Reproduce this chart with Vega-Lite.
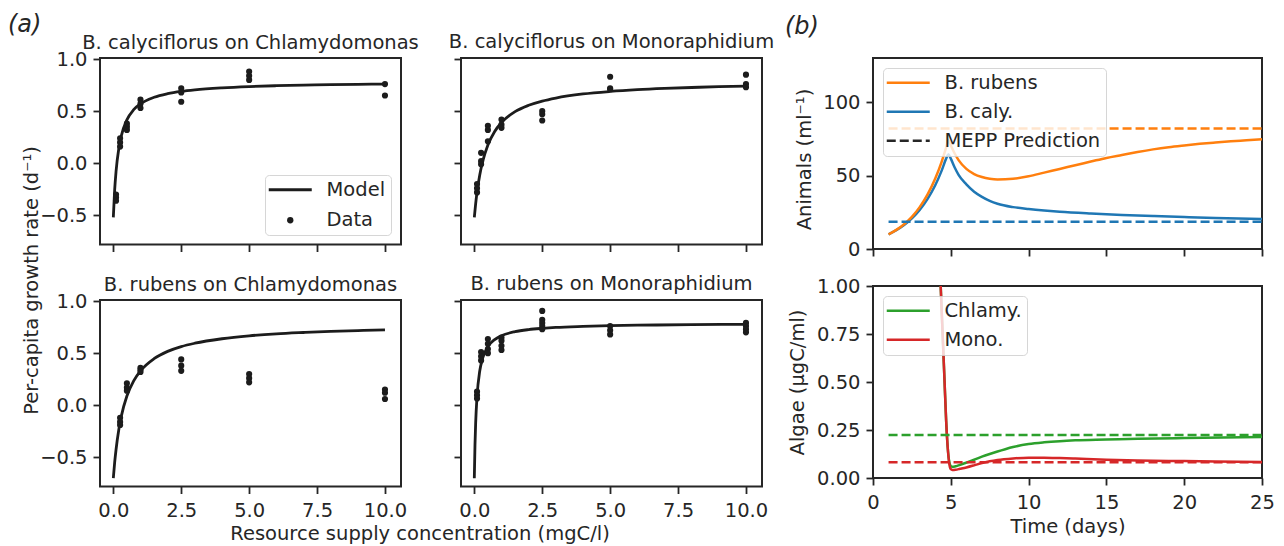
{
"$schema": "https://vega.github.io/schema/vega-lite/v6.json",
"padding": {"left": 8, "top": 12, "right": 4, "bottom": 2},
"bounds": "flush",
"spacing": 773,
"resolve": {"scale": {"color": "independent"}, "legend": {"color": "independent"}},
"datasets": {
"model": [
{"panel":"TL","series":"Model","s":0,"r":-0.52},{"panel":"TL","series":"Model","s":0.05,"r":-0.256},{"panel":"TL","series":"Model","s":0.1,"r":-0.081},{"panel":"TL","series":"Model","s":0.2,"r":0.137},{"panel":"TL","series":"Model","s":0.3,"r":0.268},{"panel":"TL","series":"Model","s":0.5,"r":0.416},{"panel":"TL","series":"Model","s":0.75,"r":0.514},{"panel":"TL","series":"Model","s":1,"r":0.57},{"panel":"TL","series":"Model","s":1.5,"r":0.633},{"panel":"TL","series":"Model","s":2,"r":0.668},{"panel":"TL","series":"Model","s":2.5,"r":0.69},{"panel":"TL","series":"Model","s":3,"r":0.705},{"panel":"TL","series":"Model","s":4,"r":0.724},{"panel":"TL","series":"Model","s":5,"r":0.736},{"panel":"TL","series":"Model","s":6,"r":0.744},{"panel":"TL","series":"Model","s":7,"r":0.749},{"panel":"TL","series":"Model","s":8,"r":0.754},{"panel":"TL","series":"Model","s":9,"r":0.757},{"panel":"TL","series":"Model","s":10,"r":0.76},
{"panel":"TR","series":"Model","s":0,"r":-0.52},{"panel":"TR","series":"Model","s":0.05,"r":-0.388},{"panel":"TR","series":"Model","s":0.1,"r":-0.279},{"panel":"TR","series":"Model","s":0.2,"r":-0.113},{"panel":"TR","series":"Model","s":0.3,"r":0.009},{"panel":"TR","series":"Model","s":0.5,"r":0.175},{"panel":"TR","series":"Model","s":0.75,"r":0.305},{"panel":"TR","series":"Model","s":1,"r":0.39},{"panel":"TR","series":"Model","s":1.5,"r":0.495},{"panel":"TR","series":"Model","s":2,"r":0.556},{"panel":"TR","series":"Model","s":2.5,"r":0.597},{"panel":"TR","series":"Model","s":3,"r":0.626},{"panel":"TR","series":"Model","s":4,"r":0.665},{"panel":"TR","series":"Model","s":5,"r":0.689},{"panel":"TR","series":"Model","s":6,"r":0.706},{"panel":"TR","series":"Model","s":7,"r":0.718},{"panel":"TR","series":"Model","s":8,"r":0.727},{"panel":"TR","series":"Model","s":9,"r":0.735},{"panel":"TR","series":"Model","s":10,"r":0.741},
{"panel":"BL","series":"Model","s":0,"r":-0.70},{"panel":"BL","series":"Model","s":0.05,"r":-0.549},{"panel":"BL","series":"Model","s":0.1,"r":-0.427},{"panel":"BL","series":"Model","s":0.2,"r":-0.238},{"panel":"BL","series":"Model","s":0.3,"r":-0.1},{"panel":"BL","series":"Model","s":0.5,"r":0.088},{"panel":"BL","series":"Model","s":0.75,"r":0.234},{"panel":"BL","series":"Model","s":1,"r":0.33},{"panel":"BL","series":"Model","s":1.5,"r":0.447},{"panel":"BL","series":"Model","s":2,"r":0.517},{"panel":"BL","series":"Model","s":2.5,"r":0.563},{"panel":"BL","series":"Model","s":3,"r":0.595},{"panel":"BL","series":"Model","s":4,"r":0.638},{"panel":"BL","series":"Model","s":5,"r":0.666},{"panel":"BL","series":"Model","s":6,"r":0.685},{"panel":"BL","series":"Model","s":7,"r":0.698},{"panel":"BL","series":"Model","s":8,"r":0.709},{"panel":"BL","series":"Model","s":9,"r":0.717},{"panel":"BL","series":"Model","s":10,"r":0.724},
{"panel":"BR","series":"Model","s":0,"r":-0.70},{"panel":"BR","series":"Model","s":0.025,"r":-0.376},{"panel":"BR","series":"Model","s":0.05,"r":-0.168},{"panel":"BR","series":"Model","s":0.1,"r":0.084},{"panel":"BR","series":"Model","s":0.2,"r":0.328},{"panel":"BR","series":"Model","s":0.3,"r":0.446},{"panel":"BR","series":"Model","s":0.5,"r":0.563},{"panel":"BR","series":"Model","s":0.75,"r":0.63},{"panel":"BR","series":"Model","s":1,"r":0.667},{"panel":"BR","series":"Model","s":1.5,"r":0.706},{"panel":"BR","series":"Model","s":2,"r":0.726},{"panel":"BR","series":"Model","s":2.5,"r":0.738},{"panel":"BR","series":"Model","s":3,"r":0.747},{"panel":"BR","series":"Model","s":4,"r":0.757},{"panel":"BR","series":"Model","s":5,"r":0.764},{"panel":"BR","series":"Model","s":6,"r":0.768},{"panel":"BR","series":"Model","s":8,"r":0.773},{"panel":"BR","series":"Model","s":10,"r":0.777}
],
"pts": [
{"panel":"TL","series":"Data","s":0.1,"r":-0.30},{"panel":"TL","series":"Data","s":0.1,"r":-0.33},{"panel":"TL","series":"Data","s":0.1,"r":-0.36},
{"panel":"TL","series":"Data","s":0.25,"r":0.24},{"panel":"TL","series":"Data","s":0.25,"r":0.20},{"panel":"TL","series":"Data","s":0.25,"r":0.16},
{"panel":"TL","series":"Data","s":0.5,"r":0.38},{"panel":"TL","series":"Data","s":0.5,"r":0.35},{"panel":"TL","series":"Data","s":0.5,"r":0.32},
{"panel":"TL","series":"Data","s":1,"r":0.61},{"panel":"TL","series":"Data","s":1,"r":0.57},{"panel":"TL","series":"Data","s":1,"r":0.53},
{"panel":"TL","series":"Data","s":2.5,"r":0.72},{"panel":"TL","series":"Data","s":2.5,"r":0.68},{"panel":"TL","series":"Data","s":2.5,"r":0.59},
{"panel":"TL","series":"Data","s":5,"r":0.88},{"panel":"TL","series":"Data","s":5,"r":0.84},{"panel":"TL","series":"Data","s":5,"r":0.80},
{"panel":"TL","series":"Data","s":10,"r":0.76},{"panel":"TL","series":"Data","s":10,"r":0.65},
{"panel":"TR","series":"Data","s":0.1,"r":-0.20},{"panel":"TR","series":"Data","s":0.1,"r":-0.24},{"panel":"TR","series":"Data","s":0.1,"r":-0.28},
{"panel":"TR","series":"Data","s":0.25,"r":0.10},{"panel":"TR","series":"Data","s":0.25,"r":0.02},{"panel":"TR","series":"Data","s":0.25,"r":-0.01},
{"panel":"TR","series":"Data","s":0.5,"r":0.36},{"panel":"TR","series":"Data","s":0.5,"r":0.32},{"panel":"TR","series":"Data","s":0.5,"r":0.21},
{"panel":"TR","series":"Data","s":1,"r":0.42},{"panel":"TR","series":"Data","s":1,"r":0.37},{"panel":"TR","series":"Data","s":1,"r":0.34},
{"panel":"TR","series":"Data","s":2.5,"r":0.50},{"panel":"TR","series":"Data","s":2.5,"r":0.47},{"panel":"TR","series":"Data","s":2.5,"r":0.41},
{"panel":"TR","series":"Data","s":5,"r":0.83},{"panel":"TR","series":"Data","s":5,"r":0.72},{"panel":"TR","series":"Data","s":5,"r":0.71},
{"panel":"TR","series":"Data","s":10,"r":0.85},{"panel":"TR","series":"Data","s":10,"r":0.76},{"panel":"TR","series":"Data","s":10,"r":0.73},
{"panel":"BL","series":"Data","s":0.25,"r":-0.12},{"panel":"BL","series":"Data","s":0.25,"r":-0.16},{"panel":"BL","series":"Data","s":0.25,"r":-0.19},
{"panel":"BL","series":"Data","s":0.5,"r":0.21},{"panel":"BL","series":"Data","s":0.5,"r":0.17},{"panel":"BL","series":"Data","s":0.5,"r":0.14},
{"panel":"BL","series":"Data","s":1,"r":0.36},{"panel":"BL","series":"Data","s":1,"r":0.34},{"panel":"BL","series":"Data","s":1,"r":0.32},
{"panel":"BL","series":"Data","s":2.5,"r":0.44},{"panel":"BL","series":"Data","s":2.5,"r":0.38},{"panel":"BL","series":"Data","s":2.5,"r":0.33},
{"panel":"BL","series":"Data","s":5,"r":0.30},{"panel":"BL","series":"Data","s":5,"r":0.26},{"panel":"BL","series":"Data","s":5,"r":0.22},
{"panel":"BL","series":"Data","s":10,"r":0.15},{"panel":"BL","series":"Data","s":10,"r":0.12},{"panel":"BL","series":"Data","s":10,"r":0.06},
{"panel":"BR","series":"Data","s":0.1,"r":0.13},{"panel":"BR","series":"Data","s":0.1,"r":0.095},{"panel":"BR","series":"Data","s":0.1,"r":0.065},
{"panel":"BR","series":"Data","s":0.25,"r":0.51},{"panel":"BR","series":"Data","s":0.25,"r":0.47},{"panel":"BR","series":"Data","s":0.25,"r":0.43},
{"panel":"BR","series":"Data","s":0.5,"r":0.635},{"panel":"BR","series":"Data","s":0.5,"r":0.59},{"panel":"BR","series":"Data","s":0.5,"r":0.54},{"panel":"BR","series":"Data","s":0.5,"r":0.50},
{"panel":"BR","series":"Data","s":1,"r":0.65},{"panel":"BR","series":"Data","s":1,"r":0.62},{"panel":"BR","series":"Data","s":1,"r":0.57},{"panel":"BR","series":"Data","s":1,"r":0.53},
{"panel":"BR","series":"Data","s":2.5,"r":0.905},{"panel":"BR","series":"Data","s":2.5,"r":0.82},{"panel":"BR","series":"Data","s":2.5,"r":0.79},{"panel":"BR","series":"Data","s":2.5,"r":0.76},{"panel":"BR","series":"Data","s":2.5,"r":0.73},
{"panel":"BR","series":"Data","s":5,"r":0.76},{"panel":"BR","series":"Data","s":5,"r":0.72},{"panel":"BR","series":"Data","s":5,"r":0.68},
{"panel":"BR","series":"Data","s":10,"r":0.79},{"panel":"BR","series":"Data","s":10,"r":0.76},{"panel":"BR","series":"Data","s":10,"r":0.73},{"panel":"BR","series":"Data","s":10,"r":0.70}
],
"animals": [
{"sp":"B. caly.","t":1,"n":10},{"sp":"B. caly.","t":1.5,"n":12.8},{"sp":"B. caly.","t":2,"n":16.3},{"sp":"B. caly.","t":2.5,"n":20.8},{"sp":"B. caly.","t":3,"n":26.6},{"sp":"B. caly.","t":3.5,"n":34},{"sp":"B. caly.","t":4,"n":43.4},{"sp":"B. caly.","t":4.4,"n":53},{"sp":"B. caly.","t":4.7,"n":61.5},{"sp":"B. caly.","t":4.85,"n":64.5},{"sp":"B. caly.","t":5,"n":61.5},{"sp":"B. caly.","t":5.25,"n":55.5},{"sp":"B. caly.","t":5.5,"n":50.5},{"sp":"B. caly.","t":6,"n":44},{"sp":"B. caly.","t":6.5,"n":39},{"sp":"B. caly.","t":7,"n":35.5},{"sp":"B. caly.","t":7.5,"n":32.8},{"sp":"B. caly.","t":8,"n":30.8},{"sp":"B. caly.","t":9,"n":28.5},{"sp":"B. caly.","t":10,"n":27.2},{"sp":"B. caly.","t":11,"n":26.2},{"sp":"B. caly.","t":12,"n":25.4},{"sp":"B. caly.","t":14,"n":24.2},{"sp":"B. caly.","t":16,"n":23.2},{"sp":"B. caly.","t":18,"n":22.4},{"sp":"B. caly.","t":20,"n":21.7},{"sp":"B. caly.","t":22,"n":21.1},{"sp":"B. caly.","t":25,"n":20.4},
{"sp":"B. rubens","t":1,"n":10},{"sp":"B. rubens","t":1.5,"n":13},{"sp":"B. rubens","t":2,"n":16.9},{"sp":"B. rubens","t":2.5,"n":21.9},{"sp":"B. rubens","t":3,"n":28.5},{"sp":"B. rubens","t":3.5,"n":37},{"sp":"B. rubens","t":4,"n":48},{"sp":"B. rubens","t":4.4,"n":59},{"sp":"B. rubens","t":4.7,"n":69},{"sp":"B. rubens","t":4.85,"n":74},{"sp":"B. rubens","t":5,"n":70.5},{"sp":"B. rubens","t":5.25,"n":65},{"sp":"B. rubens","t":5.5,"n":60.5},{"sp":"B. rubens","t":6,"n":54.5},{"sp":"B. rubens","t":6.5,"n":51},{"sp":"B. rubens","t":7,"n":49},{"sp":"B. rubens","t":7.5,"n":47.8},{"sp":"B. rubens","t":8,"n":47.3},{"sp":"B. rubens","t":9,"n":47.8},{"sp":"B. rubens","t":10,"n":49.5},{"sp":"B. rubens","t":11,"n":52},{"sp":"B. rubens","t":12,"n":54.5},{"sp":"B. rubens","t":13,"n":57},{"sp":"B. rubens","t":14,"n":59.5},{"sp":"B. rubens","t":15,"n":62},{"sp":"B. rubens","t":16,"n":64},{"sp":"B. rubens","t":17,"n":66},{"sp":"B. rubens","t":18,"n":67.8},{"sp":"B. rubens","t":19,"n":69.3},{"sp":"B. rubens","t":20,"n":70.5},{"sp":"B. rubens","t":21,"n":71.6},{"sp":"B. rubens","t":22,"n":72.5},{"sp":"B. rubens","t":23,"n":73.3},{"sp":"B. rubens","t":24,"n":74},{"sp":"B. rubens","t":25,"n":74.7}
],
"animals_pred": [
{"sp":"B. caly.","t":1,"n":18.6},{"sp":"B. caly.","t":25,"n":18.6},
{"sp":"B. rubens","t":1,"n":82},{"sp":"B. rubens","t":25,"n":82}
],
"algae": [
{"sp":"Chlamy.","t":1,"a":4.5},{"sp":"Chlamy.","t":2,"a":4.3},{"sp":"Chlamy.","t":3,"a":3.6},{"sp":"Chlamy.","t":3.5,"a":3.0},{"sp":"Chlamy.","t":4,"a":1.75},{"sp":"Chlamy.","t":4.35,"a":1.0},{"sp":"Chlamy.","t":4.5,"a":0.7},{"sp":"Chlamy.","t":4.6,"a":0.5},{"sp":"Chlamy.","t":4.7,"a":0.3},{"sp":"Chlamy.","t":4.8,"a":0.16},{"sp":"Chlamy.","t":4.9,"a":0.085},{"sp":"Chlamy.","t":5,"a":0.062},{"sp":"Chlamy.","t":5.1,"a":0.058},{"sp":"Chlamy.","t":5.3,"a":0.061},{"sp":"Chlamy.","t":5.5,"a":0.066},{"sp":"Chlamy.","t":6,"a":0.08},{"sp":"Chlamy.","t":6.5,"a":0.095},{"sp":"Chlamy.","t":7,"a":0.111},{"sp":"Chlamy.","t":7.5,"a":0.125},{"sp":"Chlamy.","t":8,"a":0.138},{"sp":"Chlamy.","t":8.5,"a":0.15},{"sp":"Chlamy.","t":9,"a":0.161},{"sp":"Chlamy.","t":10,"a":0.177},{"sp":"Chlamy.","t":11,"a":0.186},{"sp":"Chlamy.","t":12,"a":0.192},{"sp":"Chlamy.","t":13,"a":0.196},{"sp":"Chlamy.","t":15,"a":0.2},{"sp":"Chlamy.","t":17,"a":0.204},{"sp":"Chlamy.","t":20,"a":0.208},{"sp":"Chlamy.","t":25,"a":0.213},
{"sp":"Mono.","t":1,"a":4.5},{"sp":"Mono.","t":2,"a":4.3},{"sp":"Mono.","t":3,"a":3.6},{"sp":"Mono.","t":3.5,"a":3.0},{"sp":"Mono.","t":4,"a":1.75},{"sp":"Mono.","t":4.35,"a":1.0},{"sp":"Mono.","t":4.5,"a":0.7},{"sp":"Mono.","t":4.6,"a":0.5},{"sp":"Mono.","t":4.7,"a":0.3},{"sp":"Mono.","t":4.8,"a":0.16},{"sp":"Mono.","t":4.9,"a":0.075},{"sp":"Mono.","t":5,"a":0.046},{"sp":"Mono.","t":5.1,"a":0.042},{"sp":"Mono.","t":5.3,"a":0.043},{"sp":"Mono.","t":5.6,"a":0.048},{"sp":"Mono.","t":6,"a":0.055},{"sp":"Mono.","t":6.5,"a":0.066},{"sp":"Mono.","t":7,"a":0.078},{"sp":"Mono.","t":7.5,"a":0.087},{"sp":"Mono.","t":8,"a":0.094},{"sp":"Mono.","t":9,"a":0.102},{"sp":"Mono.","t":10,"a":0.106},{"sp":"Mono.","t":11,"a":0.106},{"sp":"Mono.","t":12,"a":0.104},{"sp":"Mono.","t":13,"a":0.101},{"sp":"Mono.","t":15,"a":0.095},{"sp":"Mono.","t":17,"a":0.091},{"sp":"Mono.","t":20,"a":0.088},{"sp":"Mono.","t":22,"a":0.086},{"sp":"Mono.","t":25,"a":0.083}
],
"algae_pred": [
{"sp":"Chlamy.","t":1,"a":0.224},{"sp":"Chlamy.","t":25,"a":0.224},
{"sp":"Mono.","t":1,"a":0.082},{"sp":"Mono.","t":25,"a":0.082}
]
},
"hconcat": [
{
"title": {"text": "(a)", "anchor": "start", "frame": "group", "orient": "top", "fontSize": 24, "fontStyle": "italic", "offset": -6, "dx": -92},
"bounds": "flush",
"resolve": {"scale": {"color": "independent"}, "legend": {"color": "independent"}},
"vconcat": [
{
"title": {"text": "Per-capita growth rate (d⁻¹)", "orient": "left", "anchor": "middle", "frame": "group", "offset": -4, "dx": -222.5},
"bounds": "flush",
"resolve": {"scale": {"color": "independent"}, "legend": {"color": "independent"}},
"vconcat": [
{
"title": {"text": "Resource supply concentration (mgC/l)", "orient": "bottom", "anchor": "middle", "frame": "group", "offset": 4, "dx": 320},
"bounds": "flush",
"spacing": 242,
"resolve": {"scale": {"color": "independent"}, "legend": {"color": "independent"}},
"vconcat": [
{
"bounds": "flush",
"spacing": 60,
"resolve": {"scale": {"color": "independent"}, "legend": {"color": "independent"}},
"hconcat": [
{
"width": 301, "height": 186.5,
"title": {"text": "B. calyciflorus on Chlamydomonas"},
"layer": [
{"data": {"name": "model"}, "transform": [{"filter": "datum.panel === 'TL'"}],
"mark": {"type": "line", "interpolate": "monotone", "strokeWidth": 2.8},
"encoding": {
"x": {"field": "s", "type": "quantitative", "scale": {"domain": [-0.49, 10.59], "nice": false, "zero": false}, "axis": {"values": [0, 2.5, 5, 7.5, 10], "format": ".1f", "title": null, "labels": false}},
"y": {"field": "r", "type": "quantitative", "scale": {"domain": [-0.78, 1.01], "nice": false, "zero": false}, "axis": {"values": [-0.5, 0, 0.5, 1], "format": ".1f", "title": null}},
"color": {"field": "series", "type": "nominal", "scale": {"domain": ["Model", "Data"], "range": ["#1c1c1c", "#1c1c1c"]},
"legend": {"title": null, "orient": "bottom-right", "offset": 10, "padding": 5, "rowPadding": 9.5, "labelOffset": 26.5, "symbolOffset": 10.5, "symbolSize": 1849, "symbolType": "stroke", "symbolStrokeWidth": 2.8,
"encode": {"symbols": {"update": {"shape": {"signal": "datum.value === 'Data' ? 'circle' : 'stroke'"}, "size": {"signal": "datum.value === 'Data' ? 40 : 1849"}, "fill": {"signal": "datum.value === 'Data' ? '#1c1c1c' : 'transparent'"}, "stroke": {"value": "#1c1c1c"}, "strokeWidth": {"signal": "datum.value === 'Data' ? 0 : 2.8"}}}}}}
}},
{"data": {"name": "pts"}, "transform": [{"filter": "datum.panel === 'TL'"}],
"mark": {"type": "circle", "size": 38, "opacity": 1},
"encoding": {"x": {"field": "s", "type": "quantitative"}, "y": {"field": "r", "type": "quantitative"}, "color": {"field": "series", "type": "nominal"}}}
]
},
{
"width": 301, "height": 186.5,
"title": {"text": "B. calyciflorus on Monoraphidium", "offset": 6},
"layer": [
{"data": {"name": "model"}, "transform": [{"filter": "datum.panel === 'TR'"}],
"mark": {"type": "line", "interpolate": "monotone", "strokeWidth": 2.8, "color": "#1c1c1c"},
"encoding": {
"x": {"field": "s", "type": "quantitative", "scale": {"domain": [-0.49, 10.59], "nice": false, "zero": false}, "axis": {"values": [0, 2.5, 5, 7.5, 10], "format": ".1f", "title": null, "labels": false}},
"y": {"field": "r", "type": "quantitative", "scale": {"domain": [-0.78, 1.01], "nice": false, "zero": false}, "axis": {"values": [-0.5, 0, 0.5, 1], "format": ".1f", "title": null, "labels": false}}
}},
{"data": {"name": "pts"}, "transform": [{"filter": "datum.panel === 'TR'"}],
"mark": {"type": "circle", "size": 38, "opacity": 1, "color": "#1c1c1c"},
"encoding": {"x": {"field": "s", "type": "quantitative"}, "y": {"field": "r", "type": "quantitative"}}}
]
}
]
},
{
"bounds": "flush",
"spacing": 60,
"resolve": {"scale": {"color": "independent"}, "legend": {"color": "independent"}},
"hconcat": [
{
"width": 301, "height": 186.5,
"title": {"text": "B. rubens on Chlamydomonas"},
"layer": [
{"data": {"name": "model"}, "transform": [{"filter": "datum.panel === 'BL'"}],
"mark": {"type": "line", "interpolate": "monotone", "strokeWidth": 2.8, "color": "#1c1c1c"},
"encoding": {
"x": {"field": "s", "type": "quantitative", "scale": {"domain": [-0.49, 10.59], "nice": false, "zero": false}, "axis": {"values": [0, 2.5, 5, 7.5, 10], "format": ".1f", "title": null}},
"y": {"field": "r", "type": "quantitative", "scale": {"domain": [-0.78, 1.01], "nice": false, "zero": false}, "axis": {"values": [-0.5, 0, 0.5, 1], "format": ".1f", "title": null}}
}},
{"data": {"name": "pts"}, "transform": [{"filter": "datum.panel === 'BL'"}],
"mark": {"type": "circle", "size": 38, "opacity": 1, "color": "#1c1c1c"},
"encoding": {"x": {"field": "s", "type": "quantitative"}, "y": {"field": "r", "type": "quantitative"}}}
]
},
{
"width": 301, "height": 186.5,
"title": {"text": "B. rubens on Monoraphidium", "offset": 6},
"layer": [
{"data": {"name": "model"}, "transform": [{"filter": "datum.panel === 'BR'"}],
"mark": {"type": "line", "interpolate": "monotone", "strokeWidth": 2.8, "color": "#1c1c1c"},
"encoding": {
"x": {"field": "s", "type": "quantitative", "scale": {"domain": [-0.49, 10.59], "nice": false, "zero": false}, "axis": {"values": [0, 2.5, 5, 7.5, 10], "format": ".1f", "title": null}},
"y": {"field": "r", "type": "quantitative", "scale": {"domain": [-0.78, 1.01], "nice": false, "zero": false}, "axis": {"values": [-0.5, 0, 0.5, 1], "format": ".1f", "title": null, "labels": false}}
}},
{"data": {"name": "pts"}, "transform": [{"filter": "datum.panel === 'BR'"}],
"mark": {"type": "circle", "size": 38, "opacity": 1, "color": "#1c1c1c"},
"encoding": {"x": {"field": "s", "type": "quantitative"}, "y": {"field": "r", "type": "quantitative"}}}
]
}
]
}
]
}
]
}
]
},
{
"title": {"text": "(b)", "anchor": "start", "frame": "group", "orient": "top", "fontSize": 24, "fontStyle": "italic", "offset": 18, "dx": -88},
"bounds": "flush",
"spacing": 37,
"resolve": {"scale": {"color": "independent"}, "legend": {"color": "independent"}},
"vconcat": [
{
"width": 389, "height": 191,
"layer": [
{"data": {"name": "animals"},
"mark": {"type": "line", "interpolate": "monotone", "strokeWidth": 2.5},
"encoding": {
"x": {"field": "t", "type": "quantitative", "scale": {"domain": [0, 25], "nice": false, "zero": false}, "axis": {"values": [0, 5, 10, 15, 20, 25], "labels": false, "title": null}},
"y": {"field": "n", "type": "quantitative", "scale": {"domain": [0, 130], "nice": false, "zero": false}, "axis": {"values": [0, 50, 100], "title": "Animals (ml⁻¹)", "titlePadding": 8, "titleY": 101}},
"color": {"field": "sp", "type": "nominal", "scale": {"domain": ["B. rubens", "B. caly.", "MEPP Prediction"], "range": ["#ff7f0e", "#1f77b4", "#262626"]},
"legend": {"title": null, "orient": "top-left", "offset": 10, "padding": 5, "rowPadding": 8, "labelOffset": 26.5, "symbolOffset": 10.5, "symbolSize": 1849, "symbolType": "stroke", "symbolStrokeWidth": 2.5,
"encode": {"symbols": {"update": {"size": {"signal": "datum.value === 'zzz' ? 40 : 1849"}, "strokeWidth": {"signal": "datum.value === 'zzz' ? 0 : 2.5"}, "strokeDash": {"signal": "datum.value === 'MEPP Prediction' ? [9, 4] : [1000, 0]"}}}}}}
}},
{"data": {"name": "animals_pred"},
"mark": {"type": "line", "strokeWidth": 2.5, "strokeDash": [9, 4]},
"encoding": {"x": {"field": "t", "type": "quantitative"}, "y": {"field": "n", "type": "quantitative"}, "color": {"field": "sp", "type": "nominal"}}}
]
},
{
"width": 389, "height": 192,
"layer": [
{"data": {"name": "algae"},
"mark": {"type": "line", "interpolate": "monotone", "strokeWidth": 2.5, "clip": true},
"encoding": {
"x": {"field": "t", "type": "quantitative", "scale": {"domain": [0, 25], "nice": false, "zero": false}, "axis": {"values": [0, 5, 10, 15, 20, 25], "title": "Time (days)", "titlePadding": 6}},
"y": {"field": "a", "type": "quantitative", "scale": {"domain": [0, 1], "nice": false, "zero": false}, "axis": {"values": [0, 0.25, 0.5, 0.75, 1], "format": ".2f", "title": "Algae (μgC/ml)", "titlePadding": 9}},
"color": {"field": "sp", "type": "nominal", "scale": {"domain": ["Chlamy.", "Mono."], "range": ["#2ca02c", "#d62728"]},
"legend": {"title": null, "orient": "top-left", "offset": 10, "padding": 5, "rowPadding": 8, "labelOffset": 26.5, "symbolOffset": 10.5, "symbolSize": 1849, "symbolType": "stroke", "symbolStrokeWidth": 2.5,
"encode": {"symbols": {"update": {"size": {"signal": "datum.value === 'zzz' ? 40 : 1849"}, "strokeWidth": {"signal": "datum.value === 'zzz' ? 0 : 2.5"}}}}}}
}},
{"data": {"name": "algae_pred"},
"mark": {"type": "line", "strokeWidth": 2.5, "strokeDash": [9, 4]},
"encoding": {"x": {"field": "t", "type": "quantitative"}, "y": {"field": "a", "type": "quantitative"}, "color": {"field": "sp", "type": "nominal"}}}
]
}
]
}
],
"config": {
"font": "DejaVu Sans",
"view": {"stroke": "#262626", "strokeWidth": 2},
"axis": {"grid": false, "domain": false, "tickColor": "#262626", "tickWidth": 1.8, "tickSize": 7, "labelFontSize": 19.5, "labelFont": "DejaVu Sans", "labelColor": "#262626", "labelPadding": 6, "labelFlush": false, "labelOverlap": false, "titleFont": "DejaVu Sans", "titleFontSize": 19.5, "titleFontWeight": "normal", "titleColor": "#262626"},
"axisX": {"labelPadding": 8},
"axisY": {"labelPadding": 6},
"legend": {"labelFontSize": 19.5, "labelFont": "DejaVu Sans", "labelColor": "#262626", "fillColor": "rgba(255,255,255,0.8)", "strokeColor": "rgba(204,204,204,0.8)", "cornerRadius": 4},
"title": {"font": "DejaVu Sans", "fontSize": 19.5, "fontWeight": "normal", "color": "#262626", "offset": -4}
}
}
